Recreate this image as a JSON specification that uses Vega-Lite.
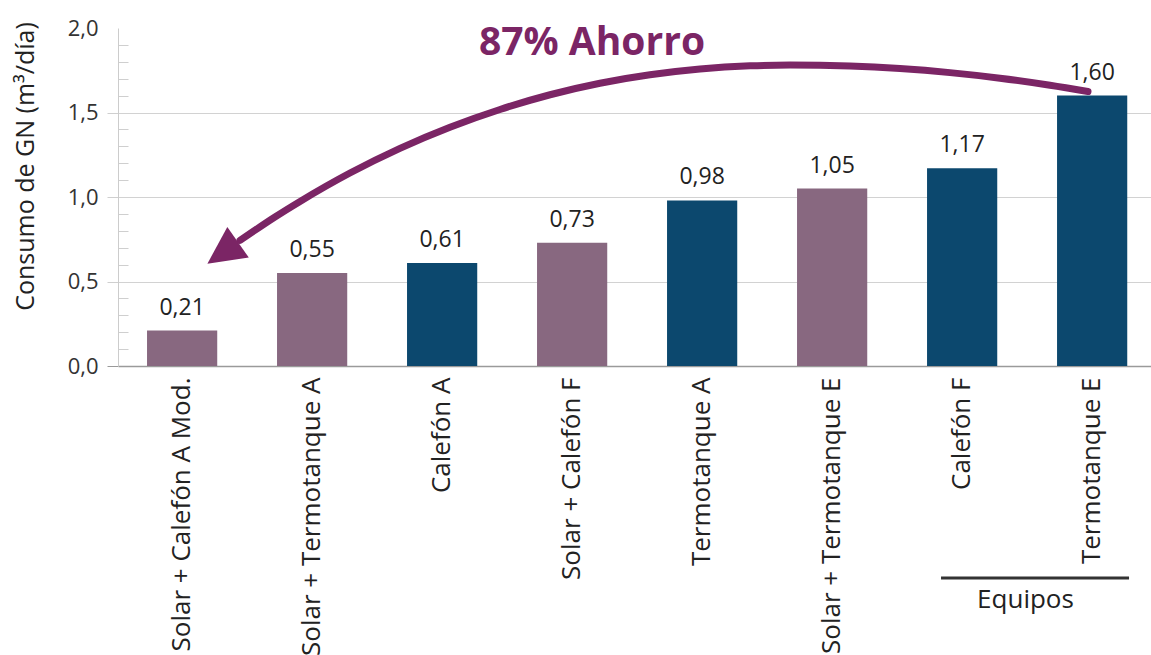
{
  "$schema": "https://vega.github.io/schema/vega-lite/v6.json",
  "width": 1033,
  "height": 338,
  "autosize": {"type": "none"},
  "padding": {"left": 118, "top": 28, "right": 0, "bottom": 289},
  "config": {
    "view": {"stroke": null},
    "font": "Open Sans",
    "locale": {"number": {"decimal": ",", "thousands": ".", "grouping": [3], "currency": ["$", ""]}}
  },
  "datasets": {
    "equipos": [
      {"equipo": "Solar + Calefón A Mod.", "valor": 0.21, "tipo": "Solar"},
      {"equipo": "Solar + Termotanque A", "valor": 0.55, "tipo": "Solar"},
      {"equipo": "Calefón A", "valor": 0.61, "tipo": "Convencional"},
      {"equipo": "Solar + Calefón F", "valor": 0.73, "tipo": "Solar"},
      {"equipo": "Termotanque A", "valor": 0.98, "tipo": "Convencional"},
      {"equipo": "Solar + Termotanque E", "valor": 1.05, "tipo": "Solar"},
      {"equipo": "Calefón F", "valor": 1.17, "tipo": "Convencional"},
      {"equipo": "Termotanque E", "valor": 1.60, "tipo": "Convencional"}
    ],
    "flecha": [
      {"pos": 0.939, "valor": 0.743},
      {"pos": 1.208, "valor": 0.882},
      {"pos": 1.401, "valor": 0.974},
      {"pos": 1.785, "valor": 1.142},
      {"pos": 2.170, "valor": 1.288},
      {"pos": 2.555, "valor": 1.413},
      {"pos": 2.940, "valor": 1.518},
      {"pos": 3.325, "valor": 1.605},
      {"pos": 3.709, "valor": 1.673},
      {"pos": 4.094, "valor": 1.723},
      {"pos": 4.479, "valor": 1.757},
      {"pos": 4.864, "valor": 1.776},
      {"pos": 5.172, "valor": 1.781},
      {"pos": 5.633, "valor": 1.775},
      {"pos": 6.018, "valor": 1.760},
      {"pos": 6.403, "valor": 1.736},
      {"pos": 6.788, "valor": 1.703},
      {"pos": 7.173, "valor": 1.661},
      {"pos": 7.465, "valor": 1.624}
    ],
    "punta": [{"pos": 0.806, "valor": 0.669}],
    "ahorro": [{"pos": 3.648, "valor": 1.84, "texto": "87% Ahorro"}],
    "grupo": [{"pos": 6.334, "pos2": 7.781, "valor": -1.254}]
  },
  "layer": [
    {
      "data": {"name": "equipos"},
      "encoding": {
        "x": {
          "field": "equipo",
          "type": "nominal",
          "sort": null,
          "scale": {"paddingInner": 0.46, "paddingOuter": 0.203, "align": 0.55},
          "axis": {
            "title": "Equipos",
            "titleX": 907,
            "titleY": 241,
            "titleAlign": "center",
            "titleBaseline": "alphabetic",
            "titleFontSize": 26,
            "titleFontWeight": "normal",
            "titleColor": "#222222",
            "titleFont": "Open Sans",
            "labelAngle": -90,
            "labelAlign": "right",
            "labelBaseline": "middle",
            "labelFontSize": 26,
            "labelColor": "#222222",
            "labelPadding": 11,
            "labelLimit": 0,
            "labelFont": "Open Sans",
            "ticks": false,
            "domainColor": "#9a9a9a",
            "domainWidth": 1.5
          }
        },
        "y": {
          "field": "valor",
          "type": "quantitative",
          "scale": {"domain": [0, 2], "nice": false},
          "axis": {
            "title": "Consumo de GN (m³/día)",
            "titleFontSize": 25,
            "titleFontWeight": "normal",
            "titleColor": "#222222",
            "titleAngle": -90,
            "titleX": -93,
            "titleY": 138,
            "titleAlign": "center",
            "titleBaseline": "middle",
            "values": [0, 0.1, 0.2, 0.3, 0.4, 0.5, 0.6, 0.7, 0.8, 0.9, 1, 1.1, 1.2, 1.3, 1.4, 1.5, 1.6, 1.7, 1.8, 1.9, 2],
            "format": ".1f",
            "labelExpr": "abs(datum.value*2 - round(datum.value*2)) < 0.001 ? datum.label : ''",
            "labelFontSize": 22,
            "labelColor": "#333333",
            "labelPadding": 9,
            "labelFlush": false,
            "labelOverlap": false,
            "tickSize": {"condition": {"test": "abs(datum.value*2 - round(datum.value*2)) < 0.001", "value": 11}, "value": -10},
            "tickColor": {"condition": {"test": "datum.value == 0", "value": "#9a9a9a"}, "value": "#cfcfcf"},
            "tickOpacity": {"condition": {"test": "datum.value == 2", "value": 0}, "value": 1},
            "grid": true,
            "gridColor": "#d2d2d2",
            "gridOpacity": {"condition": {"test": "datum.value == 0.5 || datum.value == 1 || datum.value == 1.5", "value": 1}, "value": 0},
            "domainColor": "#cccccc",
            "domainWidth": 1
          }
        }
      },
      "layer": [
        {
          "mark": {"type": "bar"},
          "encoding": {
            "color": {
              "field": "tipo",
              "type": "nominal",
              "scale": {"domain": ["Solar", "Convencional"], "range": ["#886880", "#0c486e"]},
              "legend": null
            }
          }
        },
        {
          "mark": {"type": "text", "baseline": "alphabetic", "dy": -16, "fontSize": 23, "color": "#222222", "font": "Open Sans"},
          "encoding": {
            "text": {"field": "valor", "type": "quantitative", "format": ".2f"}
          }
        }
      ]
    },
    {
      "encoding": {
        "x": {"field": "pos", "type": "quantitative", "scale": {"domain": [0, 7.95], "nice": false, "zero": false}, "axis": null},
        "y": {"field": "valor", "type": "quantitative", "scale": {"domain": [0, 2], "nice": false}, "axis": null}
      },
      "layer": [
        {
          "data": {"name": "flecha"},
          "mark": {"type": "line", "color": "#7b2565", "strokeWidth": 7, "strokeCap": "round", "interpolate": "monotone"}
        },
        {
          "data": {"name": "punta"},
          "mark": {"type": "point", "shape": "M0,-1L1,1L-1,1Z", "size": 1400, "angle": 235, "filled": true, "color": "#7b2565", "opacity": 1, "strokeWidth": 0}
        },
        {
          "data": {"name": "ahorro"},
          "mark": {"type": "text", "align": "center", "baseline": "alphabetic", "fontSize": 39, "fontWeight": "bold", "color": "#7b2565", "font": "Open Sans"},
          "encoding": {"text": {"field": "texto", "type": "nominal"}}
        },
        {
          "data": {"name": "grupo"},
          "mark": {"type": "rule", "color": "#333333", "strokeWidth": 3},
          "encoding": {"x2": {"field": "pos2"}}
        }
      ]
    }
  ],
  "resolve": {"scale": {"x": "independent"}, "axis": {"y": "independent"}}
}
